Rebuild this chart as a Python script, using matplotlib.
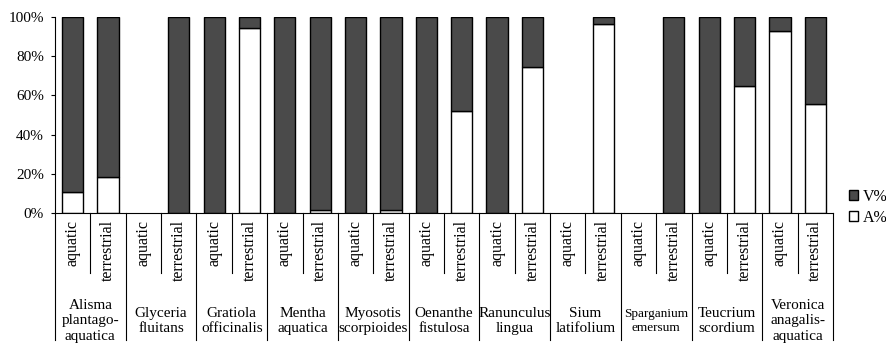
import numpy as np
import matplotlib
matplotlib.use("Agg")
import matplotlib.pyplot as plt
from matplotlib.patches import Patch

plt.rcParams['font.family'] = ['Liberation Serif', 'DejaVu Serif']

# species groups and sub categories
groups = ['Alisma\nplantago-\naquatica', 'Glyceria\nfluitans', 'Gratiola\nofficinalis',
          'Mentha\naquatica', 'Myosotis\nscorpioides', 'Oenanthe\nfistulosa',
          'Ranunculus\nlingua', 'Sium\nlatifolium', 'Sparganium\nemersum',
          'Teucrium\nscordium', 'Veronica\nanagalis-\naquatica']
habitats = ['aquatic', 'terrestrial']

# percentages (nan = no data)
aquatic_A = [10.7, np.nan, 0, 0, 0, 0, 0, np.nan, np.nan, 0, 93.0]
aquatic_V = [89.3, np.nan, 100, 100, 100, 100, 100, np.nan, np.nan, 100, 7.0]
terrestrial_A = [18.5, 0, 94.5, 1.5, 1.5, 52.0, 74.6, 96.4, 0, 65.0, 55.6]
terrestrial_V = [81.5, 100, 5.5, 98.5, 98.5, 48.0, 25.4, 3.6, 100, 35.0, 44.4]

A = []
V = []
for i in range(len(groups)):
    A += [aquatic_A[i], terrestrial_A[i]]
    V += [aquatic_V[i], terrestrial_V[i]]
A = np.array(A)
V = np.array(V)
x = np.arange(len(A))

dark = '#4a4a4a'
fig = plt.figure(figsize=(8.87, 3.45), dpi=100)
ax = fig.add_axes([55/887, 1 - 213/345, 778/887, 196/345])

ok = ~np.isnan(A)
ax.bar(x[ok], A[ok], width=0.6, color='white', edgecolor='black', linewidth=1)
ax.bar(x[ok], V[ok], bottom=A[ok], width=0.6, color=dark, edgecolor='black', linewidth=1)

ax.set_xlim(-0.5, len(A) - 0.5)
ax.set_ylim(0, 100)
ax.set_yticks(np.arange(0, 101, 20))
ax.set_yticklabels(['{}%'.format(v) for v in range(0, 101, 20)], fontsize=11)
ax.tick_params(axis='y', length=3, width=0.8, pad=5)
ax.set_xticks([])
for s in ['top', 'right']:
    ax.spines[s].set_visible(False)
ax.spines['left'].set_linewidth(0.8)
ax.spines['bottom'].set_linewidth(0.8)

trans = ax.get_xaxis_transform()
# category lines below the axis
for g in range(len(groups) + 1):
    ax.plot([2*g - 0.5, 2*g - 0.5], [0, -0.65], color='black', lw=0.8,
            transform=trans, clip_on=False)
for g in range(len(groups)):
    ax.plot([2*g + 0.5, 2*g + 0.5], [0, -0.306], color='black', lw=0.8,
            transform=trans, clip_on=False)

# labels
for i in x:
    ax.text(i, -0.036, habitats[i % 2], rotation=90, ha='center', va='top',
            fontsize=11.5, transform=trans)
for g, name in enumerate(groups):
    fs = 9.5 if name.startswith('Sparganium') else 11
    ax.text(2*g + 0.5, -0.55, name, ha='center', va='center', fontsize=fs,
            linespacing=1.25, transform=trans)

handles = [Patch(facecolor=dark, edgecolor='black', label='V%'),
           Patch(facecolor='white', edgecolor='black', label='A%')]
ax.legend(handles=handles, loc='center left', bbox_to_anchor=(1.012, 0.03),
          frameon=False, fontsize=11.5, handlelength=0.6, handleheight=0.6,
          handletextpad=0.3, labelspacing=0.3, borderaxespad=0)

fig.savefig('out.png', dpi=100)
